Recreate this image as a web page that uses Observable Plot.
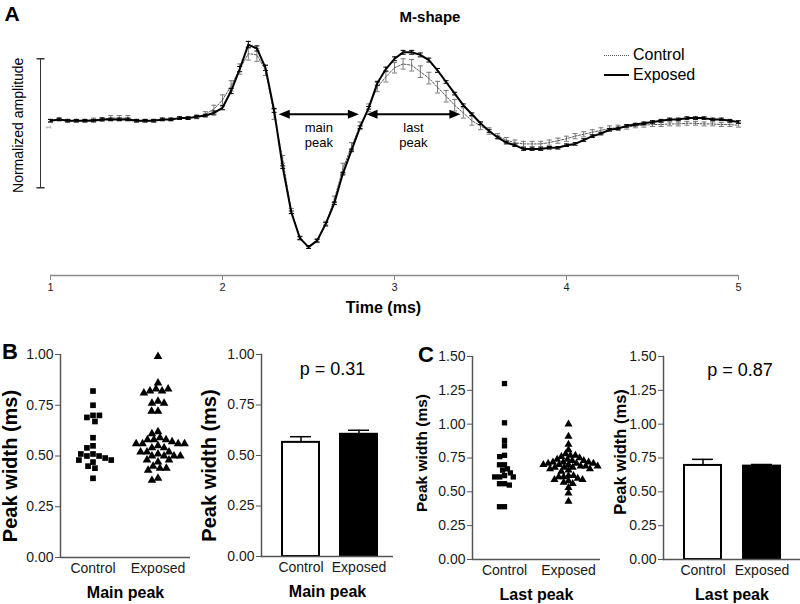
<!DOCTYPE html>
<html><head><meta charset="utf-8">
<script src="https://cdn.jsdelivr.net/npm/d3@7"></script>
<script src="https://cdn.jsdelivr.net/npm/@observablehq/plot@0.6"></script>
<style>
body{margin:0;background:#fff;font-family:"Liberation Sans",Arial,sans-serif;}
#root{position:relative;width:800px;height:604px;overflow:hidden;background:#fff;}
.lbl{position:absolute;white-space:nowrap;color:#000;}
g[aria-label="x-axis label"] text, g[aria-label="fx-axis label"] text{font-weight:bold;font-size:16px;fill:#000;}
g[aria-label$="tick label"]{fill:#1a1a1a;}
</style></head><body><div id="root"></div>
<script>
// ---------- DATA ----------
const groups = ["Control", "Exposed"];
const xTicks = [1, 2, 3, 4, 5];
const time = [1.00,1.05,1.10,1.15,1.20,1.25,1.30,1.35,1.40,1.45,
  1.50,1.55,1.60,1.65,1.70,1.75,1.80,1.85,1.90,1.95,
  2.00,2.05,2.10,2.15,2.20,2.25,2.30,2.35,2.40,2.45,
  2.50,2.55,2.60,2.65,2.70,2.75,2.80,2.85,2.90,2.95,
  3.00,3.05,3.10,3.15,3.20,3.25,3.30,3.35,3.40,3.45,
  3.50,3.55,3.60,3.65,3.70,3.75,3.80,3.85,3.90,3.95,
  4.00,4.05,4.10,4.15,4.20,4.25,4.30,4.35,4.40,4.45,
  4.50,4.55,4.60,4.65,4.70,4.75,4.80,4.85,4.90,4.95,
  5.00];
const exposedAmp = [0.00,0.01,0.00,0.00,0.00,0.00,0.01,0.01,0.01,0.01,
  0.00,0.00,0.00,0.01,0.01,0.02,0.02,0.03,0.04,0.06,
  0.10,0.23,0.40,0.59,0.56,0.41,0.08,-0.36,-0.71,-0.91,
  -0.98,-0.93,-0.80,-0.64,-0.41,-0.23,-0.05,0.10,0.29,0.40,
  0.48,0.53,0.53,0.51,0.47,0.39,0.30,0.21,0.12,0.05,
  -0.02,-0.08,-0.13,-0.17,-0.19,-0.22,-0.22,-0.22,-0.21,-0.21,
  -0.19,-0.18,-0.15,-0.12,-0.10,-0.07,-0.06,-0.04,-0.03,-0.02,
  -0.01,0.00,0.01,0.01,0.02,0.02,0.02,0.01,0.01,0.00,
  -0.01];
const exposedSem = [0.01,0.01,0.01,0.01,0.01,0.01,0.01,0.01,0.01,0.01,
  0.01,0.01,0.01,0.01,0.01,0.01,0.01,0.01,0.01,0.015,
  0.015,0.02,0.02,0.025,0.02,0.02,0.015,0.01,0.01,0.01,
  0.01,0.01,0.01,0.01,0.01,0.01,0.01,0.01,0.015,0.015,
  0.015,0.015,0.015,0.015,0.015,0.015,0.01,0.01,0.01,0.01,
  0.01,0.01,0.01,0.01,0.01,0.01,0.01,0.01,0.01,0.01,
  0.01,0.01,0.01,0.01,0.01,0.01,0.01,0.01,0.01,0.01,
  0.01,0.01,0.01,0.01,0.01,0.01,0.01,0.01,0.01,0.01,
  0.01];
const controlAmp = [0.00,0.01,0.00,0.00,0.00,0.01,0.01,0.02,0.02,0.02,
  0.00,0.00,0.00,0.01,0.01,0.02,0.02,0.03,0.05,0.09,
  0.16,0.27,0.40,0.52,0.51,0.39,0.05,-0.30,-0.70,-0.91,
  -0.98,-0.93,-0.80,-0.61,-0.37,-0.20,-0.04,0.10,0.26,0.34,
  0.41,0.44,0.43,0.38,0.33,0.26,0.19,0.12,0.06,0.00,
  -0.04,-0.08,-0.12,-0.15,-0.17,-0.18,-0.18,-0.18,-0.17,-0.155,
  -0.14,-0.12,-0.105,-0.09,-0.075,-0.06,-0.055,-0.05,-0.04,-0.035,
  -0.03,-0.03,-0.025,-0.025,-0.02,-0.02,-0.025,-0.025,-0.03,-0.03,
  -0.035];
const controlSem = [0.01,0.01,0.01,0.01,0.01,0.01,0.015,0.02,0.02,0.02,
  0.01,0.01,0.01,0.01,0.01,0.01,0.01,0.015,0.02,0.03,
  0.04,0.04,0.04,0.05,0.05,0.04,0.04,0.03,0.02,0.015,
  0.01,0.015,0.02,0.025,0.04,0.03,0.03,0.03,0.035,0.04,
  0.04,0.04,0.045,0.045,0.045,0.045,0.045,0.045,0.04,0.035,
  0.03,0.025,0.02,0.02,0.02,0.02,0.02,0.02,0.02,0.02,
  0.02,0.02,0.02,0.02,0.02,0.02,0.02,0.015,0.015,0.015,
  0.015,0.015,0.015,0.015,0.015,0.015,0.015,0.015,0.015,0.015,
  0.015];
const peakArrows = [
  {label: "main\npeak", start: 2.33, end: 2.79, level: 0.05},
  {label: "last\npeak", start: 2.84, end: 3.38, level: 0.05}
];
const scaleBar = [{top: 0.48, bottom: -0.52, unit: "1", label: "Normalized amplitude"}];

const mainControl = [0.82,0.75,0.70,0.69,0.70,0.67,0.59,0.55,0.54,0.51,0.50,0.50,0.51,0.49,0.48,0.48,0.47,0.45,0.44,0.39];
const mainExposed = [0.99,0.86,0.83,0.82,0.82,0.83,0.81,0.77,0.76,0.76,0.72,0.72,0.62,0.61,0.59,0.58,0.58,0.58,0.57,0.56,0.56,0.56,0.56,0.55,0.54,0.54,0.52,0.52,0.52,0.51,0.50,0.50,0.50,0.50,0.48,0.48,0.47,0.45,0.44,0.44,0.43,0.39,0.38];
const lastControl = [1.30,1.01,0.88,0.84,0.77,0.76,0.70,0.70,0.67,0.66,0.64,0.62,0.61,0.61,0.61,0.56,0.56,0.55,0.39,0.39];
const lastExposed = [1.00,0.91,0.85,0.81,0.78,0.77,0.77,0.76,0.75,0.74,0.74,0.73,0.73,0.72,0.72,0.72,0.71,0.71,0.71,0.70,0.70,0.70,0.69,0.69,0.69,0.68,0.68,0.68,0.67,0.67,0.66,0.65,0.62,0.62,0.61,0.61,0.60,0.59,0.59,0.58,0.57,0.56,0.53,0.49,0.43];
const mainMeans = [0.565, 0.605];
const mainSems = [0.028, 0.020];
const lastMeans = [0.695, 0.690];
const lastSems = [0.045, 0.012];
const pValues = ["p = 0.31", "p = 0.87"];
const ticksMain = [0, 0.25, 0.5, 0.75, 1.0];
const ticksLast = [0, 0.25, 0.5, 0.75, 1.0, 1.25, 1.5];

// ---------- HELPERS ----------
const FONT = '"Liberation Sans", Arial, Helvetica, sans-serif';
const root = document.getElementById("root");
function place(el, left, top) { el.style.position = "absolute"; el.style.left = left + "px"; el.style.top = top + "px"; root.appendChild(el); }
function label(text, x, y, css) {
  const d = document.createElement("div"); d.className = "lbl"; d.textContent = text;
  d.style.cssText += css; d.style.left = x + "px"; d.style.top = y + "px";
  d.style.transform = "translate(-50%,-50%)"; root.appendChild(d); return d;
}
const hbar = {draw(ctx, size) { const w = Math.sqrt(size / Math.PI); ctx.moveTo(-w, 0); ctx.lineTo(w, 0); }};
const triRight = {draw(ctx, size) { const r = Math.sqrt(size / Math.PI); ctx.moveTo(r, 0); ctx.lineTo(-r, -r * 0.8); ctx.lineTo(-r, r * 0.8); ctx.closePath(); }};
const triLeft = {draw(ctx, size) { const r = Math.sqrt(size / Math.PI); ctx.moveTo(-r, 0); ctx.lineTo(r, -r * 0.8); ctx.lineTo(r, r * 0.8); ctx.closePath(); }};

// ---------- PANEL A ----------
const wave = time.map((t, i) => ({t, exp: exposedAmp[i], expErr: exposedSem[i], ctl: controlAmp[i], ctlErr: controlSem[i]}));
const topPlot = Plot.plot({
  width: 800, height: 325,
  marginLeft: 50, marginRight: 62, marginTop: 17, marginBottom: 50,
  x: {domain: [1, 5]},
  y: {domain: [-1.2, 0.8], axis: null},
  style: {fontFamily: FONT, fontSize: "11px", color: "#1a1a1a", background: "white", overflow: "visible"},
  marks: [
    Plot.ruleY([-1.2], {stroke: "#8a8a8a", strokeWidth: 1.5}),
    Plot.axisX({ticks: xTicks, tickFormat: d => d, tickSize: 5, tickPadding: 3, color: "#8a8a8a", label: null}),
    Plot.text(["Time (ms)"], {frameAnchor: "bottom", dy: 37, dx: -11, fontSize: 16, fontWeight: "bold", fill: "#000"}),
    // scale bar
    Plot.ruleX(scaleBar, {x: 1, dx: -10, y1: "top", y2: "bottom", stroke: "#333", strokeWidth: 1}),
    Plot.dot(scaleBar, {x: 1, dx: -10, y: "top", symbol: hbar, r: 4, stroke: "#333", fill: "none"}),
    Plot.dot(scaleBar, {x: 1, dx: -10, y: "bottom", symbol: hbar, r: 4, stroke: "#333", fill: "none"}),
    Plot.text(scaleBar, {x: 1, dx: -32, y: d => (d.top + d.bottom) / 2, dy: 2, text: "label", rotate: -90, fontSize: 14, fill: "#000"}),
    Plot.text(scaleBar, {x: 1, dx: -2, y: d => (d.top + d.bottom) / 2, dy: 4, text: "unit", rotate: -90, fontSize: 8, fill: "#999"}),
    // control
    Plot.ruleX(wave, {x: "t", y1: d => d.ctl - d.ctlErr, y2: d => d.ctl + d.ctlErr, stroke: "#7a7a7a", strokeWidth: 1}),
    Plot.dot(wave, {x: "t", y: d => d.ctl + d.ctlErr, symbol: hbar, r: 2.5, stroke: "#7a7a7a", fill: "none", strokeWidth: 1}),
    Plot.dot(wave, {x: "t", y: d => d.ctl - d.ctlErr, symbol: hbar, r: 2.5, stroke: "#7a7a7a", fill: "none", strokeWidth: 1}),
    Plot.line(wave, {x: "t", y: "ctl", stroke: "#555", strokeWidth: 1, strokeDasharray: "2,1.5"}),
    // exposed
    Plot.line(wave, {x: "t", y: "exp", stroke: "#000", strokeWidth: 2}),
    Plot.ruleX(wave, {x: "t", y1: d => d.exp - d.expErr, y2: d => d.exp + d.expErr, stroke: "#000", strokeWidth: 1}),
    Plot.dot(wave, {x: "t", y: d => d.exp + d.expErr, symbol: hbar, r: 2.5, stroke: "#000", fill: "none", strokeWidth: 1}),
    Plot.dot(wave, {x: "t", y: d => d.exp - d.expErr, symbol: hbar, r: 2.5, stroke: "#000", fill: "none", strokeWidth: 1}),
    // peak-width arrows
    Plot.ruleY(peakArrows, {y: "level", x1: "start", x2: "end", stroke: "#000", strokeWidth: 2, insetLeft: 6, insetRight: 6}),
    Plot.dot(peakArrows, {x: "start", y: "level", dx: 5, symbol: triLeft, r: 5.5, fill: "#000", stroke: "none"}),
    Plot.dot(peakArrows, {x: "end", y: "level", dx: -5, symbol: triRight, r: 5.5, fill: "#000", stroke: "none"}),
    Plot.text(peakArrows, {x: d => (d.start + d.end) / 2, y: "level", dy: 20, text: "label", fontSize: 13, lineHeight: 1.15, fill: "#000"})
  ]
});
place(topPlot, 0, 0);

label("A", 12, 14, "font-size:21px;font-weight:bold;");
label("M-shape", 430, 16, "font-size:15px;font-weight:bold;");
// legend
const leg = document.createElement("div");
leg.innerHTML =
  '<div style="display:flex;align-items:center;height:20px"><span style="display:inline-block;width:25px;border-top:1px dotted #555;margin-right:4px"></span><span style="font-size:16px">Control</span></div>' +
  '<div style="display:flex;align-items:center;height:20px"><span style="display:inline-block;width:25px;border-top:2px solid #000;margin-right:4px"></span><span style="font-size:16px">Exposed</span></div>';
leg.style.fontFamily = FONT;
place(leg, 604, 45);

// ---------- PANELS B / C ----------
function scatter(ctrl, expo, o) {
  const rows = [...ctrl.map(v => ({g: "Control", v})), ...expo.map(v => ({g: "Exposed", v}))];
  const ymax = o.ticks[o.ticks.length - 1];
  return Plot.plot({
    width: 200, height: 274,
    marginLeft: o.ml, marginRight: o.mr, marginTop: o.mt, marginBottom: o.mb,
    fx: {domain: groups, padding: 0, axis: "bottom", label: o.xLabel, labelAnchor: "center", labelOffset: 40, tickSize: 0, tickPadding: 6},
    x: {domain: [0, 1], axis: null},
    y: {domain: [0, ymax], ticks: o.ticks, tickFormat: ".2f", tickSize: 5, tickPadding: 2, label: null},
    symbol: {domain: groups, range: ["square", "triangle"]},
    style: {fontFamily: FONT, fontSize: o.fs + "px", color: "#555", background: "transparent", overflow: "visible"},
    marks: [
      Plot.ruleY([0], {stroke: "#555", strokeWidth: 1.5}),
      Plot.ruleX([{g: "Control", x: 0}], {fx: "g", x: "x", y1: 0, y2: ymax, stroke: "#555", strokeWidth: 1.5}),
      Plot.dot(rows, Plot.dodgeX({anchor: "middle", padding: o.pad}, {fx: "g", y: "v", r: o.r, symbol: "g", fill: "#000", stroke: "none"})),
      Plot.text([{g: "Control", t: "Peak width (ms)"}], {fx: "g", text: "t", frameAnchor: "left", textAnchor: "middle", lineAnchor: "middle", dx: o.ylx, dy: o.yly, rotate: -90, fontSize: o.yfs, fontWeight: "bold", fill: "#000"})
    ]
  });
}
function bars(means, sems, o) {
  const rows = groups.map((g, i) => ({g, m: means[i], s: sems[i]}));
  const ymax = o.ticks[o.ticks.length - 1];
  return Plot.plot({
    width: 200, height: 274,
    marginLeft: o.ml, marginRight: o.mr, marginTop: o.mt, marginBottom: o.mb,
    x: {domain: groups, paddingInner: o.pi, paddingOuter: o.po, align: o.align, label: o.xLabel, labelAnchor: "center", labelOffset: 40, tickSize: 0, tickPadding: 6},
    y: {domain: [0, ymax], ticks: o.ticks, tickFormat: ".2f", tickSize: 5, tickPadding: 2, label: null},
    color: {domain: groups, range: ["#ffffff", "#000000"]},
    style: {fontFamily: FONT, fontSize: o.fs + "px", color: "#555", background: "transparent", overflow: "visible"},
    marks: [
      Plot.ruleX(rows, {x: "g", y1: "m", y2: d => d.m + d.s, stroke: "#000", strokeWidth: 1.5}),
      Plot.tickY(rows, {x: "g", y: d => d.m + d.s, stroke: "#000", strokeWidth: 1.5, insetLeft: 9, insetRight: 9}),
      Plot.barY(rows, {x: "g", y: "m", fill: "g", stroke: "#000", strokeWidth: 2, insetLeft: 1, insetRight: 1}),
      Plot.ruleY([0], {stroke: "#555", strokeWidth: 1.5}),
      Plot.frame({anchor: "left", stroke: "#555", strokeWidth: 1.5}),
      Plot.text([o.p], {frameAnchor: "top", dx: o.pdx, dy: o.pdy, fontSize: 18, fill: "#000"}),
      Plot.text(["Peak width (ms)"], {frameAnchor: "left", textAnchor: "middle", lineAnchor: "middle", dx: o.ylx, dy: o.yly, rotate: -90, fontSize: o.yfs, fontWeight: "bold", fill: "#000"})
    ]
  });
}

place(scatter(mainControl, mainExposed, {ml: 60, mr: 10, mt: 24, mb: 47, ticks: ticksMain, xLabel: "Main peak", fs: 14, r: 3.2, pad: 0, ylx: -50, yly: 10, yfs: 20}), 0, 330);
place(bars(mainMeans, mainSems, {ml: 61, mr: 7, mt: 24, mb: 48, ticks: ticksMain, xLabel: "Main peak", fs: 14, pi: 0.33, po: 0.3, align: 0.56, p: pValues[0], pdx: 5, pdy: 8, ylx: -52, yly: 10, yfs: 20}), 200, 330);
place(scatter(lastControl, lastExposed, {ml: 72, mr: 0, mt: 26, mb: 45, ticks: ticksLast, xLabel: "Last peak", fs: 14, r: 3, pad: -1, ylx: -50, yly: -5, yfs: 15.5}), 400, 330);
place(bars(lastMeans, lastSems, {ml: 63, mr: 0, mt: 26, mb: 45, ticks: ticksLast, xLabel: "Last peak", fs: 14, pi: 0.34, po: 0.33, align: 0.5, p: pValues[1], pdx: 8, pdy: 7, ylx: -43, yly: -6, yfs: 16.5}), 600, 330);

label("B", 10, 352, "font-size:22px;font-weight:bold;");
label("C", 426, 355, "font-size:22px;font-weight:bold;");
</script></body></html>
